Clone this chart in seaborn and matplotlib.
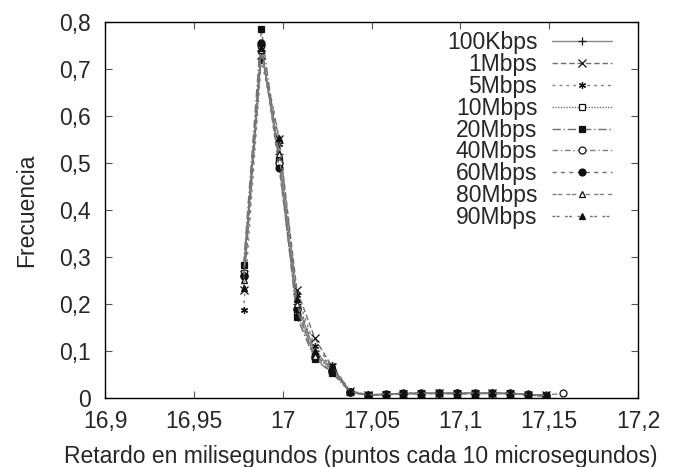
import matplotlib
matplotlib.use("Agg")
import matplotlib.pyplot as plt
import seaborn as sns
import numpy as np
from matplotlib.ticker import FuncFormatter, FixedLocator

sns.set_style("ticks")
plt.rcParams['font.family'] = ['Liberation Sans', 'DejaVu Sans']

x_ms = [16.978, 16.988, 16.998, 17.008, 17.018, 17.028, 17.038, 17.048, 17.058,
        17.068, 17.078, 17.088, 17.098, 17.108, 17.118, 17.128, 17.138, 17.148]
x_ms_40 = [16.978, 16.988, 16.998, 17.008, 17.018, 17.028, 17.038, 17.048, 17.058,
           17.068, 17.078, 17.088, 17.098, 17.108, 17.118, 17.128, 17.138, 17.148, 17.158]

labels = ["100Kbps", "1Mbps", "5Mbps", "10Mbps", "20Mbps", "40Mbps", "60Mbps", "80Mbps", "90Mbps"]

s_100k = [0.270, 0.740, 0.520, 0.200, 0.100, 0.060, 0.012, 0.006, 0.008, 0.010, 0.010, 0.010, 0.010, 0.010, 0.010, 0.010, 0.008, 0.005]
s_1m   = [0.230, 0.730, 0.550, 0.230, 0.128, 0.065, 0.015, 0.007, 0.007, 0.009, 0.009, 0.010, 0.009, 0.009, 0.010, 0.009, 0.007, 0.006]
s_5m   = [0.187, 0.720, 0.540, 0.220, 0.110, 0.070, 0.014, 0.006, 0.008, 0.009, 0.010, 0.009, 0.010, 0.010, 0.009, 0.010, 0.008, 0.005]
s_10m  = [0.265, 0.750, 0.500, 0.180, 0.090, 0.060, 0.012, 0.007, 0.008, 0.010, 0.010, 0.010, 0.010, 0.010, 0.010, 0.010, 0.007, 0.002]
s_20m  = [0.283, 0.785, 0.506, 0.172, 0.083, 0.053, 0.012, 0.006, 0.007, 0.009, 0.009, 0.010, 0.009, 0.010, 0.010, 0.009, 0.006, 0.004]
s_40m  = [0.260, 0.750, 0.500, 0.190, 0.090, 0.060, 0.013, 0.006, 0.008, 0.010, 0.010, 0.010, 0.010, 0.010, 0.010, 0.010, 0.008, 0.006, 0.010]
s_60m  = [0.260, 0.755, 0.490, 0.190, 0.085, 0.055, 0.013, 0.006, 0.007, 0.009, 0.009, 0.010, 0.010, 0.009, 0.010, 0.009, 0.007, 0.004]
s_80m  = [0.250, 0.740, 0.520, 0.200, 0.090, 0.065, 0.014, 0.007, 0.008, 0.010, 0.010, 0.010, 0.010, 0.010, 0.010, 0.010, 0.008, 0.005]
s_90m  = [0.235, 0.745, 0.553, 0.210, 0.100, 0.067, 0.014, 0.006, 0.008, 0.009, 0.010, 0.010, 0.009, 0.010, 0.010, 0.009, 0.007, 0.005]
series = [s_100k, s_1m, s_5m, s_10m, s_20m, s_40m, s_60m, s_80m, s_90m]
xs_all = [x_ms, x_ms, x_ms, x_ms, x_ms, x_ms_40, x_ms, x_ms, x_ms]

x_ticks = [16.9, 16.95, 17.0, 17.05, 17.1, 17.15, 17.2]
y_ticks = [0, 0.1, 0.2, 0.3, 0.4, 0.5, 0.6, 0.7, 0.8]

markers = ['+', 'x', (6, 2, 0), 's', 's', 'o', 'o', '^', '^']
filled = [True, True, True, False, True, False, True, False, True]
linestyles = ['-', (0, (4, 2)), (0, (2, 3)), (0, (1, 1)), (0, (6, 2, 1, 2)),
              (0, (4, 2, 1, 2)), (0, (3, 3)), (0, (3, 1, 3, 3)), (0, (2, 1, 2, 4))]
lcolors = ['#888888', '#707070', '#808080', '#707070', '#707070', '#808080', '#707070', '#808080', '#707070']

FS = 16.5

fig = plt.figure(figsize=(6.74, 4.67), dpi=100)
ax = fig.add_axes([0.1558, 0.1478, 0.7908, 0.8051])

for lab, xs, ys, m, f, ls, lc in zip(labels, xs_all, series, markers, filled, linestyles, lcolors):
    sns.lineplot(x=xs, y=ys, ax=ax, label=lab, marker=m, linestyle=ls,
                 color=lc, linewidth=1.0, markersize=5 if m not in ('+', 'x') else 6,
                 markeredgecolor='#111111',
                 markerfacecolor='#111111' if f else 'white',
                 markeredgewidth=0.9)

ax.set_xlim(16.9, 17.2)
ax.set_ylim(0, 0.8)
ax.xaxis.set_major_locator(FixedLocator(x_ticks))
ax.yaxis.set_major_locator(FixedLocator(y_ticks))

def comma_fmt(v, pos):
    s = f"{v:.2f}".rstrip('0').rstrip('.')
    return s.replace('.', ',')

ax.xaxis.set_major_formatter(FuncFormatter(comma_fmt))
ax.yaxis.set_major_formatter(FuncFormatter(comma_fmt))
ax.tick_params(direction='in', top=True, right=True, length=5, width=0.8,
               labelsize=FS, color='#555555')
ax.tick_params(axis='x', pad=9)
ax.tick_params(axis='y', pad=10)
for sp in ax.spines.values():
    sp.set_linewidth(1.0)
    sp.set_color('black')

ax.set_xlabel("Retardo en milisegundos (puntos cada 10 microsegundos)", fontsize=FS, labelpad=6)
ax.xaxis.set_label_coords(0.48, -0.125)
ax.set_ylabel("Frecuencia", fontsize=FS, labelpad=15)

leg = ax.legend(loc='upper right', frameon=False, markerfirst=False, fontsize=FS,
                handlelength=2.6, labelspacing=-0.05, handletextpad=0.65,
                borderaxespad=0.0, bbox_to_anchor=(0.968, 1.0))
for t in leg.get_texts():
    t.set_ha('right')
leg._legend_box.align = "right"

fig.savefig("out.png", dpi=100)
